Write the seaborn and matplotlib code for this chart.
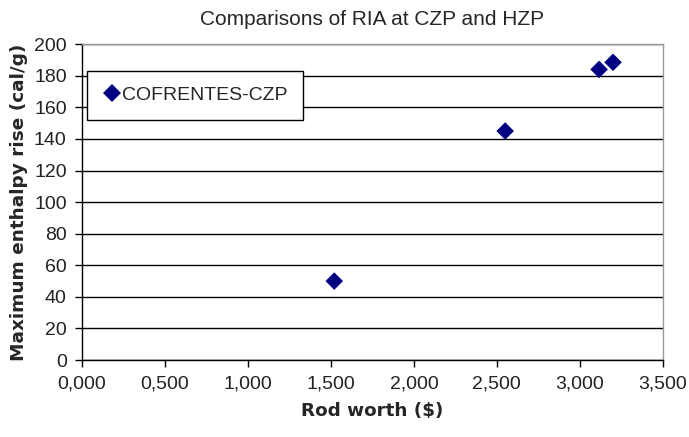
import matplotlib
matplotlib.use("Agg")
import matplotlib.pyplot as plt
import seaborn as sns
import pandas as pd
from matplotlib.ticker import FuncFormatter

rod_worth = [1.52, 2.55, 3.116, 3.20]
enthalpy_rise = [50, 145, 184, 188.5]
series = ["COFRENTES-CZP"] * 4
x_ticks = [0, 0.5, 1.0, 1.5, 2.0, 2.5, 3.0, 3.5]
y_ticks = [0, 20, 40, 60, 80, 100, 120, 140, 160, 180, 200]

df = pd.DataFrame({"Rod worth": rod_worth, "Enthalpy": enthalpy_rise, "Series": series})

sns.set_theme(style="white")
plt.rcParams["font.family"] = ["Liberation Sans", "DejaVu Sans"]

fig = plt.figure(figsize=(6.89, 4.37), dpi=100)
ax = fig.add_axes([0.119, 0.176, 0.843, 0.723])

sns.scatterplot(data=df, x="Rod worth", y="Enthalpy", hue="Series",
                palette=["#000080"], marker="D", s=80, edgecolor="#000080",
                linewidth=0, ax=ax, zorder=3)

ax.set_xlim(0, 3.5)
ax.set_ylim(0, 200)
ax.set_xticks(x_ticks)
ax.set_yticks(y_ticks)
ax.xaxis.set_major_formatter(FuncFormatter(lambda v, p: f"{v:.3f}".replace(".", ",")))
ax.yaxis.set_major_formatter(FuncFormatter(lambda v, p: f"{int(v)}"))
ax.grid(axis="y", color="black", linewidth=1.0)
ax.grid(axis="x", visible=False)
ax.set_axisbelow(True)

for side in ["top", "right"]:
    ax.spines[side].set_color("#999999")
    ax.spines[side].set_linewidth(1.0)
for side in ["left", "bottom"]:
    ax.spines[side].set_color("black")
    ax.spines[side].set_linewidth(1.0)

ax.tick_params(axis="both", direction="out", length=5, width=1, color="black",
               labelsize=14, pad=6, labelcolor="#222222")
ax.tick_params(axis="x", bottom=True)
ax.tick_params(axis="y", left=True)

ax.set_xlabel("Rod worth ($)", fontsize=13.2, fontweight="bold", labelpad=7,
              family=["DejaVu Sans"])
ax.set_ylabel("Maximum enthalpy rise (cal/g)", fontsize=13.3, fontweight="bold",
              labelpad=4, family=["DejaVu Sans"])
ax.set_title("Comparisons of RIA at CZP and HZP", fontsize=15, pad=14)

leg = ax.legend(loc="upper left", bbox_to_anchor=(0.009, 0.915), fontsize=14,
                frameon=True, fancybox=False, edgecolor="black", framealpha=1,
                handletextpad=0.1, borderpad=0.8, markerscale=1.0, handlelength=0.9,
                borderaxespad=0)
leg.get_frame().set_linewidth(1.0)

fig.savefig("out.png", dpi=100)
